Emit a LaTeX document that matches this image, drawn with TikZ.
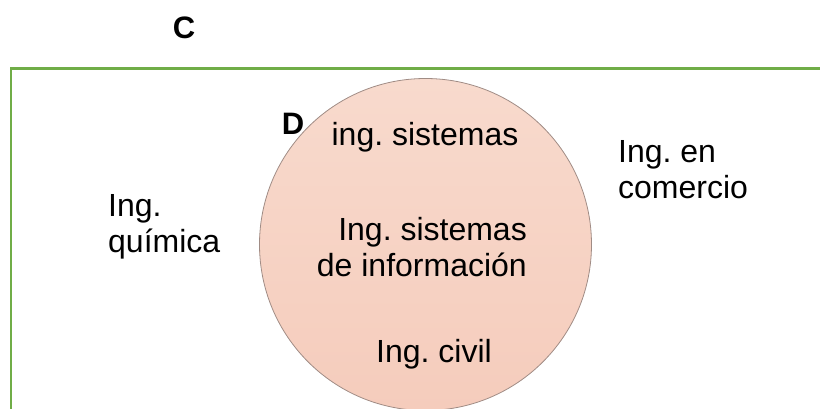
\documentclass[tikz,border=0pt]{standalone}
\usepackage{fontspec}
\setmainfont{Liberation Sans}
\usepackage{xcolor}
\usetikzlibrary{positioning,shapes.geometric}
\definecolor{frame}{RGB}{112,173,71}
\definecolor{setfill}{RGB}{248,218,205}
\definecolor{setfillb}{RGB}{245,204,188}
\definecolor{setline}{RGB}{160,140,133}
\definecolor{ink}{RGB}{0,0,0}
\frenchspacing

\begin{document}
\begin{tikzpicture}[
  x=1pt, y=-1pt,
  font=\fontsize{32}{36}\selectfont,
  txt/.style={inner sep=0pt, text=ink},
  tag/.style={txt, font=\fontsize{31}{36}\selectfont\bfseries},
  setc/.style={circle, draw=setline, line width=0.8pt, top color=setfill, bottom color=setfillb, minimum size=332pt, inner sep=0pt},
]
\useasboundingbox (0,0) rectangle (820,409);
% universe C
\draw[frame, line width=2.6pt] (11,409) -- (11,68.5) -- (820,68.5);
\node[tag] (labc) at (184,28) {C};
% set D
\node[setc] (setd) at (425.5,244.5) {};
\node[tag] (labd) at (293,124) {D};
\node[txt] (sis) at (425,137) {ing. sistemas};
\node[txt, align=right, anchor=east] (info) at (527,247) {Ing. sistemas\\de información};
\node[txt] (civ) at (434,354) {Ing. civil};
% outside D
\node[txt, align=left, anchor=west] (qui) at (108,227) {Ing.\\química};
\node[txt, align=left, anchor=west] (com) at (618,170) {Ing. en\\comercio};
\end{tikzpicture}
\end{document}
